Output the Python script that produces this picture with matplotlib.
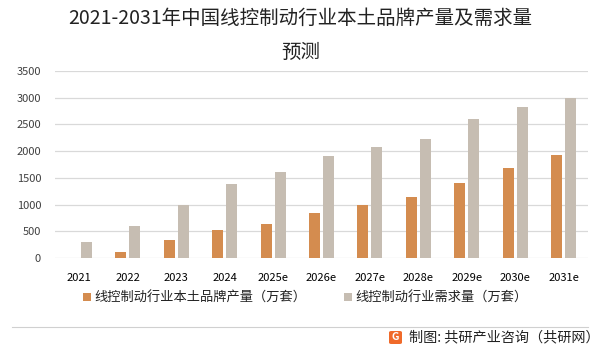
import matplotlib
matplotlib.use("Agg")
import matplotlib.pyplot as plt
import numpy as np
from matplotlib.patches import FancyBboxPatch

plt.rcParams['font.family'] = ['Noto Sans CJK SC', 'DejaVu Sans']

years = ['2021', '2022', '2023', '2024', '2025e', '2026e', '2027e',
         '2028e', '2029e', '2030e', '2031e']
production = [0, 120, 345, 530, 640, 845, 985, 1145, 1410, 1690, 1930]
demand = [305, 590, 985, 1390, 1610, 1910, 2080, 2230, 2600, 2825, 3000]

series_names = ['线控制动行业本土品牌产量（万套）', '线控制动行业需求量（万套）']
source_text = '制图: 共研产业咨询（共研网）'

c_prod = '#D48C4F'
c_dem = '#C6BDB2'

fig = plt.figure(figsize=(6.01, 3.46), dpi=100)
ax = fig.add_axes([55/601, 1-258/346, 533/601, 187/346])

x = np.arange(len(years))
w = 0.227
off = 0.145
ax.bar(x - off, production, width=w, color=c_prod, label=series_names[0], zorder=3)
ax.bar(x + off, demand, width=w, color=c_dem, label=series_names[1], zorder=3)

ax.set_ylim(0, 3500)
ax.set_xlim(-0.5, len(years) - 0.5)
ax.set_yticks(np.arange(0, 3501, 500))
ax.yaxis.grid(True, color='#D9D9D9', linewidth=0.9, zorder=0)
ax.set_axisbelow(True)
for s in ax.spines.values():
    s.set_visible(False)
ax.tick_params(axis='both', length=0, labelsize=8, colors='#404040')
ax.tick_params(axis='y', pad=10)
ax.tick_params(axis='x', pad=11)
ax.set_xticks(x)
ax.set_xticklabels(years)
for lbl in ax.get_xticklabels():
    lbl.set_color('#000000')

fig.text(0.5, 1 - 18/346, '2021-2031年中国线控制动行业本土品牌产量及需求量',
         ha='center', va='center', fontsize=14, color='#222222')
fig.text(0.5, 1 - 52/346, '预测', ha='center', va='center', fontsize=14,
         color='#222222')

leg = fig.legend(loc='center', bbox_to_anchor=(0.508, 1 - 298/346), ncol=2,
                 frameon=False, fontsize=9.5, handlelength=0.6, handleheight=0.6,
                 handletextpad=0.3, columnspacing=2.8)
for t in leg.get_texts():
    t.set_color('#222222')

fig.add_artist(plt.Line2D([12/601, 588/601], [1 - 327/346, 1 - 327/346],
                          color='#D0D0D0', linewidth=0.8))

# source logo badge
logo = FancyBboxPatch((389/601, 1 - 344/346), 13/601, 13/346,
                      boxstyle='round,pad=0,rounding_size=0.004',
                      transform=fig.transFigure, facecolor='#F06A2A',
                      edgecolor='none')
fig.add_artist(logo)
fig.text(395.5/601, 1 - 337.5/346, 'G', ha='center', va='center', fontsize=7.5,
         fontweight='bold', color='white')
fig.text(600/601, 1 - 337/346, source_text, ha='right', va='center',
         fontsize=10.2, color='#222222')

fig.savefig('out.png', dpi=100)
